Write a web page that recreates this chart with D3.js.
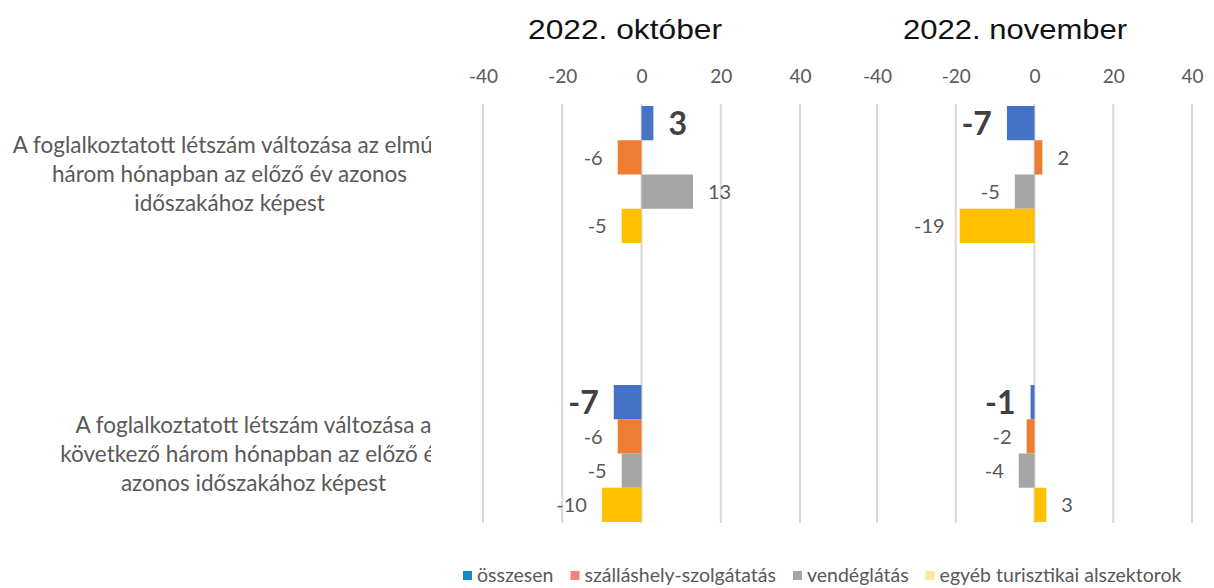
<!DOCTYPE html>
<html><head><meta charset="utf-8">
<script src="https://cdn.jsdelivr.net/npm/d3@7"></script>
<style>
body{margin:0;background:#fff;}
svg{display:block;}
</style></head>
<body>
<svg id="chart" width="1214" height="588"></svg>
<script>
// ---- data ----
const categories = ["elmult", "kovetkezo"];
const categoryLines = [
  ["A foglalkoztatott létszám változása az elmúlt", "három hónapban az előző év azonos", "időszakához képest"],
  ["A foglalkoztatott létszám változása a", "következő három hónapban az előző év", "azonos időszakához képest"]
];
const seriesNames = ["összesen", "szálláshely-szolgátatás", "vendéglátás", "egyéb turisztikai alszektorok"];
const panelTitles = ["2022. október", "2022. november"];
const octoberValues = [[3, -6, 13, -5], [-7, -6, -5, -10]];
const novemberValues = [[-7, 2, -5, -19], [-1, -2, -4, 3]];
const tickValues = [-40, -20, 0, 20, 40];

// ---- styles ----
const barColors = ["#4472C4", "#ED7D31", "#A5A5A5", "#FFC000"];
const legendColors = ["#1689C9", "#FF7C80", "#A5A5A5", "#FFE699"];
const textFont = "Lato, 'Open Sans', sans-serif";

const svg = d3.select("#chart");

const panels = [
  {values: octoberValues, title: panelTitles[0], range: [483, 800], titleX: 625, titleW: 194},
  {values: novemberValues, title: panelTitles[1], range: [877, 1192], titleX: 1015, titleW: 224}
];

const yCat = d3.scaleBand().domain(categories).range([106, 522]).paddingInner(0.509).paddingOuter(0);
const ySer = d3.scaleBand().domain(d3.range(seriesNames.length)).range([0, yCat.bandwidth()]).padding(0);

panels.forEach(p => {
  const x = d3.scaleLinear().domain([-40, 40]).range(p.range);
  const g = svg.append("g");

  // gridlines
  g.selectAll("line.grid").data(tickValues).join("line")
    .attr("x1", d => x(d)).attr("x2", d => x(d))
    .attr("y1", 104).attr("y2", 523)
    .attr("stroke", "#D9D9D9").attr("stroke-width", 2);

  // axis labels (top)
  const ax = g.append("g").attr("transform", "translate(0,83)")
    .call(d3.axisTop(x).tickValues(tickValues).tickSize(0).tickPadding(0).tickFormat(d3.format("d")));
  ax.select(".domain").remove();
  ax.selectAll("text").attr("font-family", textFont).attr("font-size", 19).attr("fill", "#595959")
    .text(d => d < 0 ? "-" + Math.abs(d) : d);

  // title
  g.append("text").attr("x", p.titleX - p.titleW / 2).attr("y", 39)
    .attr("textLength", p.titleW).attr("lengthAdjust", "spacingAndGlyphs")
    .attr("font-family", "'Liberation Sans', Arial, sans-serif").attr("font-size", 28).attr("fill", "#111")
    .text(p.title);

  categories.forEach((c, ci) => {
    p.values[ci].forEach((v, si) => {
      const y0 = yCat(c) + ySer(si);
      g.append("rect")
        .attr("x", x(Math.min(0, v))).attr("width", Math.abs(x(v) - x(0)))
        .attr("y", y0).attr("height", ySer.bandwidth())
        .attr("fill", barColors[si]);
      const bold = si === 0;
      g.append("text")
        .attr("x", v < 0 ? x(v) - 15 : x(v) + 15)
        .attr("y", y0 + ySer.bandwidth() / 2)
        .attr("dy", "0.36em")
        .attr("text-anchor", v < 0 ? "end" : "start")
        .attr("font-family", textFont)
        .attr("font-size", bold ? 32 : 20)
        .attr("font-weight", bold ? "bold" : "normal")
        .attr("fill", bold ? "#404040" : "#595959")
        .text(v < 0 ? "-" + Math.abs(v) : v);
    });
  });
});

// category labels, clipped
svg.append("clipPath").attr("id", "catclip").append("rect")
  .attr("x", 0).attr("y", 0).attr("width", 431).attr("height", 588);
const catCenters = [229.5, 253.5];
const catG = svg.append("g").attr("clip-path", "url(#catclip)");
categories.forEach((c, ci) => {
  const cy = yCat(c) + yCat.bandwidth() / 2;
  const t = catG.append("text").attr("text-anchor", "middle")
    .attr("font-family", textFont).attr("font-size", 22.5).attr("fill", "#595959");
  categoryLines[ci].forEach((line, li) => {
    t.append("tspan").attr("x", catCenters[ci]).attr("y", cy + (li - 1) * 29 + 8).text(line);
  });
});

// legend (laid out by measured text widths)
const lg = svg.append("g");
let lx = 463;
seriesNames.forEach((s, i) => {
  lg.append("rect").attr("x", lx).attr("y", 571).attr("width", 9).attr("height", 9).attr("fill", legendColors[i]);
  const t = lg.append("text").attr("x", lx + 14).attr("y", 582)
    .attr("font-family", textFont).attr("font-size", 19.5).attr("fill", "#595959").text(s);
  lx += 14 + t.node().getComputedTextLength() + 17;
});
</script>
</body></html>
